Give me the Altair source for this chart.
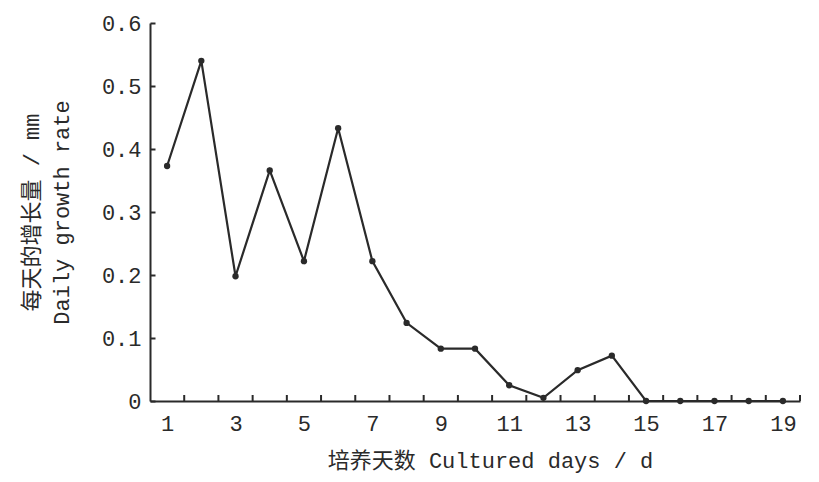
import altair as alt
import pandas as pd

days = list(range(1, 20))
growth = [0.373, 0.540, 0.198, 0.366, 0.222, 0.433, 0.222, 0.124, 0.083,
          0.083, 0.025, 0.005, 0.049, 0.072, 0.0, 0.0, 0.0, 0.0, 0.0]

x_label_values = [1, 3, 5, 7, 9, 11, 13, 15, 17, 19]
x_tick_values = [i + 0.5 for i in range(1, 20)]
y_values = [0, 0.1, 0.2, 0.3, 0.4, 0.5, 0.6]

x_title = "培养天数 Cultured days / d"
y_title = ["每天的增长量 / mm", "Daily growth rate"]

df = pd.DataFrame({"day": days, "growth": growth})
ticks_df = pd.DataFrame({"t": x_tick_values, "z": [0.0] * len(x_tick_values)})

FONT = "Liberation Mono, Noto Sans CJK SC"
INK = "#2a2a2a"

x_scale = alt.Scale(domain=[0.5, 19.5], nice=False, zero=False)
y_scale = alt.Scale(domain=[0, 0.6], nice=False)

x_enc = alt.X(
    "day:Q",
    scale=x_scale,
    axis=alt.Axis(
        values=x_label_values,
        ticks=False,
        labelPadding=12,
        labelOverlap=False,
        grid=False,
        title=x_title,
        titlePadding=16,
        titleX=340,
    ),
)
y_enc = alt.Y(
    "growth:Q",
    scale=y_scale,
    axis=alt.Axis(
        values=y_values,
        labelExpr="datum.value == 0 ? '0' : format(datum.value, '.1f')",
        tickSize={"expr": "-5"},
        labelPadding=14,
        grid=False,
        title=y_title,
        titlePadding=28,
        titleLineHeight=30,
    ),
)

line = alt.Chart(df).mark_line(color=INK, strokeWidth=2.2).encode(x=x_enc, y=y_enc)
pts = alt.Chart(df).mark_point(filled=True, color=INK, size=40, opacity=1).encode(
    x="day:Q", y="growth:Q"
)
minor = alt.Chart(ticks_df).mark_tick(
    color=INK, orient="vertical", size=6, thickness=2, yOffset=-3, opacity=1
).encode(x="t:Q", y="z:Q")

chart = (
    alt.layer(line, minor, pts)
    .properties(
        width=650,
        height=378,
        autosize=alt.AutoSizeParams(type="none"),
        padding={"left": 142, "top": 15, "right": 11, "bottom": 80},
    )
    .configure_view(stroke=None)
    .configure_axis(
        domainColor=INK,
        domainWidth=2,
        tickColor=INK,
        tickWidth=2,
        labelFont=FONT,
        labelFontSize=22,
        labelColor=INK,
        titleFont=FONT,
        titleFontSize=22,
        titleFontWeight="normal",
        titleColor=INK,
    )
)

chart.save("out.html", embed_options={"renderer": "svg", "actions": False})
